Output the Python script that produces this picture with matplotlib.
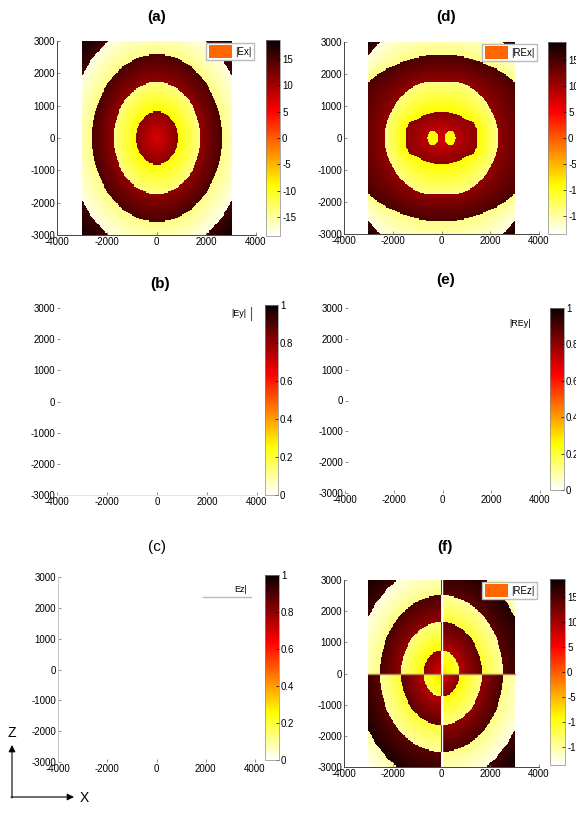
import numpy as np
import matplotlib
matplotlib.use('Agg')
import matplotlib.pyplot as plt
from matplotlib.patches import Patch
from matplotlib.colors import Normalize
from matplotlib.cm import ScalarMappable

plt.rcParams['font.family'] = ['Liberation Sans', 'DejaVu Sans']
plt.rcParams['axes.unicode_minus'] = False

W, H = 576, 816

# axis ticks shared by every panel
x_ticks = [-4000, -2000, 0, 2000, 4000]
y_ticks = [-3000, -2000, -1000, 0, 1000, 2000, 3000]
field_ticks = [-15, -10, -5, 0, 5, 10, 15]
unit_ticks = [0, 0.2, 0.4, 0.6, 0.8, 1]
field_lim = 18.5

# |Ex| : circular rings, boundary radii
ex_radii = [820, 1730, 2590, 3560]
ex_inner = [7, -9, 11, -14, 15.5]      # value at inner edge of each band
ex_outer = [11.5, -14, 15, -17.5, 18]  # value at outer edge of each band

# |REx| : deformed rings, boundary radius sampled every 10 deg from the x axis
rex_angles = [0, 10, 20, 30, 40, 50, 60, 70, 80, 90]
rex_radii = [
    [1470, 1490, 1380, 1160, 1040, 960, 900, 860, 840, 830],
    [2280, 2290, 2230, 2150, 2070, 2000, 1935, 1870, 1800, 1750],
    [3600, 3550, 3500, 3470, 3200, 2960, 2800, 2690, 2620, 2580],
    [4100, 4100, 4050, 4000, 3950, 3900, 3850, 3800, 3800, 3800],
]
rex_inner = [7, -9, 11, -14, 15.5]
rex_outer = [11.5, -14, 15, -17.5, 18]
rex_dot_x = [-360, 360]
rex_dot_r = 225
rex_dot_val = -9.5

# |REz| : circular rings whose sign flips from quadrant to quadrant
rez_radii = [730, 1650, 2510, 3500]
rez_inner = [7, -9, 11, -14, 15.5]
rez_outer = [11.5, -14, 15, -17.5, 18]


def ring_field(radii, inner, outer, angles=None, n=160):
    xs = np.linspace(-3000, 3000, n + 1)
    xs = (xs[:-1] + xs[1:]) / 2
    X, Y = np.meshgrid(xs, xs)
    R = np.hypot(X, Y)
    th = np.degrees(np.arctan2(np.abs(Y), np.abs(X)))
    if angles is None:
        bounds = [np.full_like(R, rb) for rb in radii]
    else:
        bounds = [np.interp(th, angles, rb) for rb in radii]
    edges = [np.zeros_like(R)] + bounds + [np.full_like(R, 4250.0)]
    Z = np.zeros_like(R)
    for k in range(len(inner)):
        lo, hi = edges[k], edges[k + 1]
        m = (R >= lo) & (R < hi)
        t = (R - lo) / (hi - lo)
        Z[m] = inner[k] + (outer[k] - inner[k]) * t[m]
    return X, Y, Z


def box(left, top, right, bottom):
    return [left / W, 1 - bottom / H, (right - left) / W, (bottom - top) / H]


def style_axes(ax, spines=('left', 'bottom'), spine_color='#444444'):
    ax.set_xlim(-4000, 4000)
    ax.set_ylim(-3000, 3000)
    ax.set_xticks(x_ticks)
    ax.set_yticks(y_ticks)
    ax.set_xticklabels([str(v) for v in x_ticks])
    ax.set_yticklabels([str(v) for v in y_ticks])
    ax.tick_params(labelsize=7, length=2, width=0.5, direction='in', pad=1.5,
                   color='#666666')
    for name, sp in ax.spines.items():
        if name in spines:
            sp.set_color(spine_color)
            sp.set_linewidth(0.7)
        else:
            sp.set_visible(False)


def style_cbar(cb):
    cb.ax.tick_params(labelsize=7, length=2, width=0.5, direction='in', pad=1.5)
    cb.outline.set_linewidth(0.5)
    cb.outline.set_edgecolor('#888888')


def field_panel(box_ax, box_cb, Z, label):
    ax = fig.add_axes(box(*box_ax))
    im = ax.imshow(Z, origin='lower', extent=[-3000, 3000, -3000, 3000],
                   cmap='hot_r', vmin=-field_lim, vmax=field_lim,
                   interpolation='nearest', aspect='auto')
    style_axes(ax)
    ax.legend(handles=[Patch(facecolor='#ff6600', label=label)], loc='upper right',
              fontsize=7, handlelength=2.4, handleheight=1.6, borderpad=0.25,
              borderaxespad=0.2, handletextpad=0.35, fancybox=False,
              framealpha=1, edgecolor='#bbbbbb')
    cax = fig.add_axes(box(*box_cb))
    cb = fig.colorbar(im, cax=cax, ticks=field_ticks)
    cb.ax.set_yticklabels([str(v) for v in field_ticks])
    style_cbar(cb)
    return ax


def blank_panel(box_ax, box_cb, spines, spine_color):
    ax = fig.add_axes(box(*box_ax))
    style_axes(ax, spines=spines, spine_color=spine_color)
    cax = fig.add_axes(box(*box_cb))
    sm = ScalarMappable(norm=Normalize(0, 1), cmap='hot_r')
    cb = fig.colorbar(sm, cax=cax, ticks=unit_ticks)
    cb.ax.set_yticklabels(['0', '0.2', '0.4', '0.6', '0.8', '1'])
    style_cbar(cb)
    return ax


fig = plt.figure(figsize=(W / 100, H / 100), dpi=100)

# (a) |Ex|
_, _, Z_ex = ring_field(ex_radii, ex_inner, ex_outer)
field_panel((57, 41, 256, 235), (266, 40, 280, 236), Z_ex, '|Ex|')

# (d) |REx|
X, Y, Z_rex = ring_field(rex_radii, rex_inner, rex_outer, angles=rex_angles)
for dx in rex_dot_x:
    Z_rex[np.hypot(X - dx, Y) < rex_dot_r] = rex_dot_val
field_panel((344, 42, 539, 234), (548, 42, 566, 234), Z_rex, '|REx|')

# (f) |REz|
X, Y, Z_rez = ring_field(rez_radii, rez_inner, rez_outer)
Z_rez = Z_rez * -np.sign(X * Y)
ax_f = field_panel((344, 580, 539, 767), (550, 579, 565, 765), Z_rez, '|REz|')
ax_f.plot([-3000, 3000], [0, 0], color='#b08850', lw=1.0)
ax_f.plot([0, 0], [-3000, 3000], color='white', lw=1.0)

# (b) |Ey| and (e) |REy| and (c) |Ez| are empty
blank_panel((57, 308, 257, 495), (265, 305, 278, 495), ('bottom',), '#e4e4e4')
blank_panel((345, 308, 540, 493), (550, 308, 564, 490), (), '#ffffff')
blank_panel((58, 577, 255, 762), (265, 575, 279, 760), ('left',), '#c4c4c4')

# overlay in pixel coordinates for titles, stray legend bits and the axis arrows
ov = fig.add_axes([0, 0, 1, 1])
ov.set_xlim(0, W)
ov.set_ylim(H, 0)
ov.axis('off')

titles = ['(a)', '(d)', '(b)', '(e)', '(c)', '(f)']
title_x = [157, 446, 160, 446, 157, 445]
title_y = [17, 17, 284, 280, 547, 547]
for t, tx, ty in zip(titles, title_x, title_y):
    ov.text(tx, ty, t, ha='center', va='center', fontsize=11,
            fontweight='normal' if t == '(c)' else 'bold')

ov.text(239, 313, '|Ey|', ha='center', va='center', fontsize=6.5)
ov.plot([251, 251], [307, 320], color='#555555', lw=0.8)
ov.text(520, 323, '|REy|', ha='center', va='center', fontsize=6.5)
ov.text(241, 590, 'Ez|', ha='center', va='center', fontsize=6.5)
ov.plot([203, 251], [597, 597], color='#bbbbbb', lw=1.0)

ov.annotate('', xy=(12, 745), xytext=(12, 798),
            arrowprops=dict(arrowstyle='-|>', lw=0.8, color='k', shrinkA=0, shrinkB=0))
ov.annotate('', xy=(74, 797), xytext=(11, 797),
            arrowprops=dict(arrowstyle='-|>', lw=0.8, color='k', shrinkA=0, shrinkB=0))
ov.text(12, 733, 'Z', ha='center', va='center', fontsize=10)
ov.text(84, 798, 'X', ha='center', va='center', fontsize=10)

fig.savefig('out.png', dpi=100)
